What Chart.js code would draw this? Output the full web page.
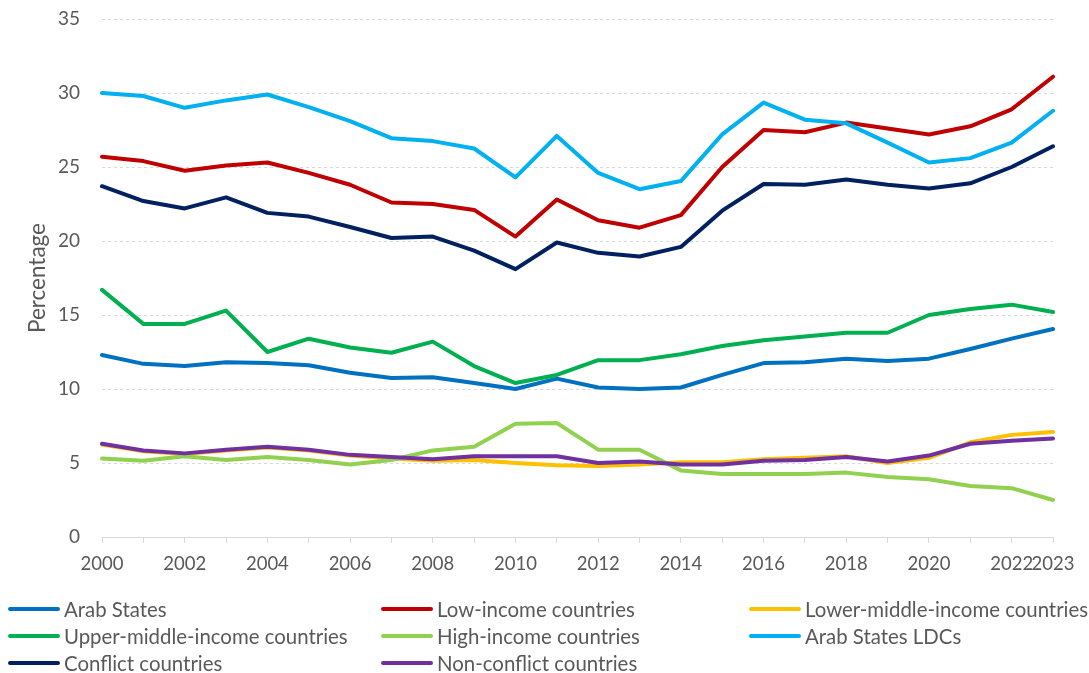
<!DOCTYPE html>
<html>
<head>
<meta charset="utf-8">
<title>Percentage by country group, 2000–2023</title>
<script src="https://cdn.jsdelivr.net/npm/chart.js@4.4.1/dist/chart.umd.min.js"></script>
<style>
  html, body { margin: 0; padding: 0; background: #ffffff; }
  #wrap { position: relative; width: 1089px; height: 673px; overflow: hidden; }
  #chart { position: absolute; left: 0; top: 0; }
  #legend { position: absolute; left: 0; top: 0; width: 1089px; height: 673px; pointer-events: none;
            font-family: Lato, "Open Sans", sans-serif; color: #595959; }
  .item { position: absolute; display: flex; align-items: center; white-space: nowrap;
          font-size: 20.4px; line-height: 24px; height: 24px; transform: translateY(-50%); }
  .swatch { width: 52px; height: 4px; border-radius: 2px; margin-right: 4px; flex: none; }
</style>
</head>
<body>
<div id="wrap">
  <canvas id="chart" width="1089" height="673"></canvas>
  <div id="legend"></div>
</div>
<script>
// Years on the horizontal axis
const years = [2000, 2001, 2002, 2003, 2004, 2005, 2006, 2007, 2008, 2009, 2010, 2011,
               2012, 2013, 2014, 2015, 2016, 2017, 2018, 2019, 2020, 2021, 2022, 2023];

// Series values (percentage)
const arabStates   = [12.3, 11.7, 11.55, 11.8, 11.75, 11.6, 11.1, 10.75, 10.8, 10.4, 10.0, 10.7,
                      10.1, 10.0, 10.1, 10.95, 11.75, 11.8, 12.05, 11.9, 12.05, 12.7, 13.4, 14.05];
const lowIncome    = [25.7, 25.4, 24.75, 25.1, 25.3, 24.6, 23.8, 22.6, 22.5, 22.1, 20.3, 22.8,
                      21.4, 20.9, 21.75, 25.0, 27.5, 27.35, 28.0, 27.6, 27.2, 27.75, 28.9, 31.1];
const lowerMiddle  = [6.25, 5.8, 5.6, 5.85, 6.05, 5.85, 5.5, 5.3, 5.15, 5.2, 5.0, 4.85,
                      4.8, 4.9, 5.05, 5.05, 5.25, 5.35, 5.45, 5.0, 5.35, 6.4, 6.9, 7.1];
const upperMiddle  = [16.7, 14.4, 14.4, 15.3, 12.5, 13.4, 12.8, 12.45, 13.2, 11.55, 10.4, 10.95,
                      11.95, 11.95, 12.35, 12.9, 13.3, 13.55, 13.8, 13.8, 15.0, 15.4, 15.7, 15.2];
const highIncome   = [5.3, 5.15, 5.45, 5.2, 5.4, 5.2, 4.9, 5.2, 5.85, 6.1, 7.65, 7.7,
                      5.9, 5.9, 4.5, 4.25, 4.25, 4.25, 4.35, 4.05, 3.9, 3.45, 3.3, 2.5];
const arabLDCs     = [30.0, 29.8, 29.0, 29.5, 29.9, 29.05, 28.1, 26.95, 26.75, 26.25, 24.3, 27.1,
                      24.6, 23.5, 24.05, 27.2, 29.35, 28.2, 27.95, 26.65, 25.3, 25.6, 26.65, 28.8];
const conflict     = [23.7, 22.7, 22.2, 22.95, 21.9, 21.65, 20.95, 20.2, 20.3, 19.35, 18.1, 19.9,
                      19.2, 18.95, 19.6, 22.05, 23.85, 23.8, 24.15, 23.8, 23.55, 23.9, 25.0, 26.4];
const nonConflict  = [6.3, 5.85, 5.65, 5.9, 6.1, 5.9, 5.55, 5.4, 5.25, 5.45, 5.45, 5.45,
                      5.0, 5.1, 4.9, 4.9, 5.15, 5.2, 5.4, 5.1, 5.5, 6.3, 6.5, 6.65];

// Series names
const seriesNames = ['Arab States', 'Low-income countries', 'Lower-middle-income countries',
                     'Upper-middle-income countries', 'High-income countries', 'Arab States LDCs',
                     'Conflict countries', 'Non-conflict countries'];

// Vertical axis ticks
const yTicks = [0, 5, 10, 15, 20, 25, 30, 35];

const seriesValues = [arabStates, lowIncome, lowerMiddle, upperMiddle, highIncome, arabLDCs, conflict, nonConflict];
const seriesColors = ['#0070C0', '#C00000', '#FFC000', '#00B050', '#92D050', '#00B0F0', '#002060', '#7030A0'];

const FONT = 'Lato, "Open Sans", sans-serif';
const TEXT = '#595959';
const GRID = '#d9d9d9';

const datasets = seriesValues.map((vals, i) => ({
  label: seriesNames[i],
  data: vals,
  borderColor: seriesColors[i],
  backgroundColor: seriesColors[i],
  borderWidth: 4,
  borderJoinStyle: 'round',
  borderCapStyle: 'round',
  pointRadius: 0,
  pointHoverRadius: 0,
  tension: 0,
  fill: false,
  order: -i   // later series are painted over earlier ones
}));

new Chart(document.getElementById('chart'), {
  type: 'line',
  data: { labels: years.map(String), datasets },
  options: {
    responsive: false,
    animation: false,
    events: [],
    layout: { padding: { top: 19, right: 36, bottom: 96, left: 0 } },
    plugins: { legend: { display: false }, tooltip: { enabled: false } },
    scales: {
      x: {
        type: 'category',
        offset: false,
        grid: { display: true, drawOnChartArea: false, drawTicks: true, tickLength: 6, color: GRID, lineWidth: 1 },
        border: { display: true, color: GRID, width: 1 },
        ticks: {
          autoSkip: false,
          maxRotation: 0,
          minRotation: 0,
          padding: 10,
          color: TEXT,
          font: { family: FONT, size: 18.5 },
          callback: (v, i) => (years[i] % 2 === 0 || i === years.length - 1) ? String(years[i]) : ''
        },
        afterFit: (scale) => { scale.height = 40; }
      },
      y: {
        min: yTicks[0],
        max: yTicks[yTicks.length - 1],
        afterBuildTicks: (scale) => { scale.ticks = yTicks.map(v => ({ value: v })); },
        grid: { display: true, drawTicks: false, color: GRID, lineWidth: 1 },
        border: { display: false, dash: [3, 3] },
        ticks: { padding: 22, color: TEXT, font: { family: FONT, size: 19 } },
        title: { display: true, text: 'Percentage', color: TEXT, font: { family: FONT, size: 22.5 }, padding: { top: 24, bottom: 0 } },
        afterFit: (scale) => { scale.width = 102; scale.paddingTop = 0; scale.paddingBottom = 0; }
      }
    }
  }
});

// Legend laid out in three columns beneath the plot
const legendCols = [8, 381, 749];
const legendRows = [609, 636, 663];
const legend = document.getElementById('legend');
seriesNames.forEach((name, i) => {
  const item = document.createElement('div');
  item.className = 'item';
  item.style.left = legendCols[i % 3] + 'px';
  item.style.top = legendRows[Math.floor(i / 3)] + 'px';
  const sw = document.createElement('span');
  sw.className = 'swatch';
  sw.style.background = seriesColors[i];
  const tx = document.createElement('span');
  tx.textContent = name;
  item.appendChild(sw);
  item.appendChild(tx);
  legend.appendChild(item);
});
</script>
</body>
</html>
